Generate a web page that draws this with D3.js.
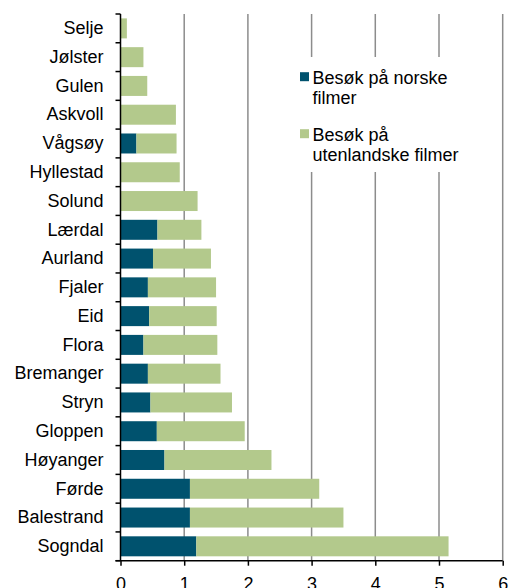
<!DOCTYPE html>
<html>
<head>
<meta charset="utf-8">
<script src="https://cdn.jsdelivr.net/npm/d3@7"></script>
<style>
html,body{margin:0;padding:0;background:#fff;}
svg{display:block;font-family:"Liberation Sans",Arial,sans-serif;}
</style>
</head>
<body>
<svg id="chart" width="510" height="588"></svg>
<script>
const categories = ["Selje","Jølster","Gulen","Askvoll","Vågsøy","Hyllestad","Solund","Lærdal","Aurland","Fjaler","Eid","Flora","Bremanger","Stryn","Gloppen","Høyanger","Førde","Balestrand","Sogndal"];
const norske =      [0,    0,    0,    0,    0.25, 0,    0,    0.58, 0.51, 0.43, 0.45, 0.36, 0.43, 0.47, 0.57, 0.69, 1.09, 1.09, 1.19];
const utenlandske = [0.10, 0.36, 0.42, 0.87, 0.63, 0.93, 1.21, 0.69, 0.91, 1.07, 1.06, 1.16, 1.14, 1.28, 1.38, 1.68, 2.03, 2.41, 3.96];
const xTicks = [0,1,2,3,4,5,6];
const colors = ["#00526e","#b3c98c"];

(function(){
const svg = d3.select("#chart");
const mLeft = 120.5, mRight = 502.7, mTop = 14, mBottom = 560.7;

const x = d3.scaleLinear().domain([0,6]).range([mLeft,mRight]);
const y = d3.scaleBand().domain(categories).range([mTop,mBottom]).paddingInner(0.305).paddingOuter(0.1525);

// gridlines
svg.append("g").selectAll("line").data(xTicks.slice(1)).join("line")
  .attr("x1",d=>x(d)).attr("x2",d=>x(d)).attr("y1",mTop).attr("y2",mBottom)
  .attr("stroke","#8c8c8c").attr("stroke-width",1.5);

// bars
const rows = categories.map((c,i)=>({c, n:norske[i], u:utenlandske[i]}));
const g = svg.append("g");
g.selectAll("rect.n").data(rows).join("rect").attr("class","n")
  .attr("x",x(0)).attr("y",d=>y(d.c)).attr("height",y.bandwidth())
  .attr("width",d=>x(d.n)-x(0)).attr("fill",colors[0]);
g.selectAll("rect.u").data(rows).join("rect").attr("class","u")
  .attr("x",d=>x(d.n)).attr("y",d=>y(d.c)).attr("height",y.bandwidth())
  .attr("width",d=>x(d.n+d.u)-x(d.n)).attr("fill",colors[1]);

// legend
const lg = svg.append("g");
lg.append("rect").attr("x",296).attr("y",57).attr("width",200).attr("height",115).attr("fill","#fff");
const legendLines = [["Besøk på norske","filmer"],["Besøk på","utenlandske filmer"]];
const legendY = [83.5,140.5];
legendLines.forEach((lines,i)=>{
  lg.append("rect").attr("x",300).attr("y",legendY[i]-11.3).attr("width",9).attr("height",9).attr("fill",colors[i]);
  const t = lg.append("text").attr("x",312.5).attr("y",legendY[i]).attr("font-size",18).attr("fill","#000");
  lines.forEach((l,j)=>t.append("tspan").attr("x",312.5).attr("dy",j===0?0:20).text(l));
});

// x axis
const xAxis = svg.append("g").attr("transform",`translate(0,${mBottom})`)
  .call(d3.axisBottom(x).tickValues(xTicks).tickSize(5).tickPadding(12).tickFormat(d3.format("d")));
xAxis.select(".domain").attr("stroke","#000").attr("stroke-width",1.5).attr("d",`M${mLeft-5},0H${mRight}`);
xAxis.selectAll(".tick line").attr("stroke","#000").attr("stroke-width",1.5);
xAxis.selectAll("text").attr("font-size",18).attr("fill","#000").attr("font-family","Liberation Sans, Arial, sans-serif");

// y axis
const yAxis = svg.append("g").attr("transform",`translate(${mLeft},0)`)
  .call(d3.axisLeft(y).tickSize(0).tickPadding(17));
yAxis.select(".domain").attr("stroke","#000").attr("stroke-width",1.5).attr("d",`M0,${mTop}V${mBottom}`);
yAxis.selectAll("text").attr("font-size",18).attr("fill","#000").attr("font-family","Liberation Sans, Arial, sans-serif");
// category boundary ticks
const bounds = d3.range(categories.length+1).map(i=>mTop + i*(mBottom-mTop)/categories.length);
svg.append("g").selectAll("line").data(bounds).join("line")
  .attr("x1",mLeft-5).attr("x2",mLeft).attr("y1",d=>d).attr("y2",d=>d)
  .attr("stroke","#000").attr("stroke-width",1.5);
})();
</script>
</body>
</html>
